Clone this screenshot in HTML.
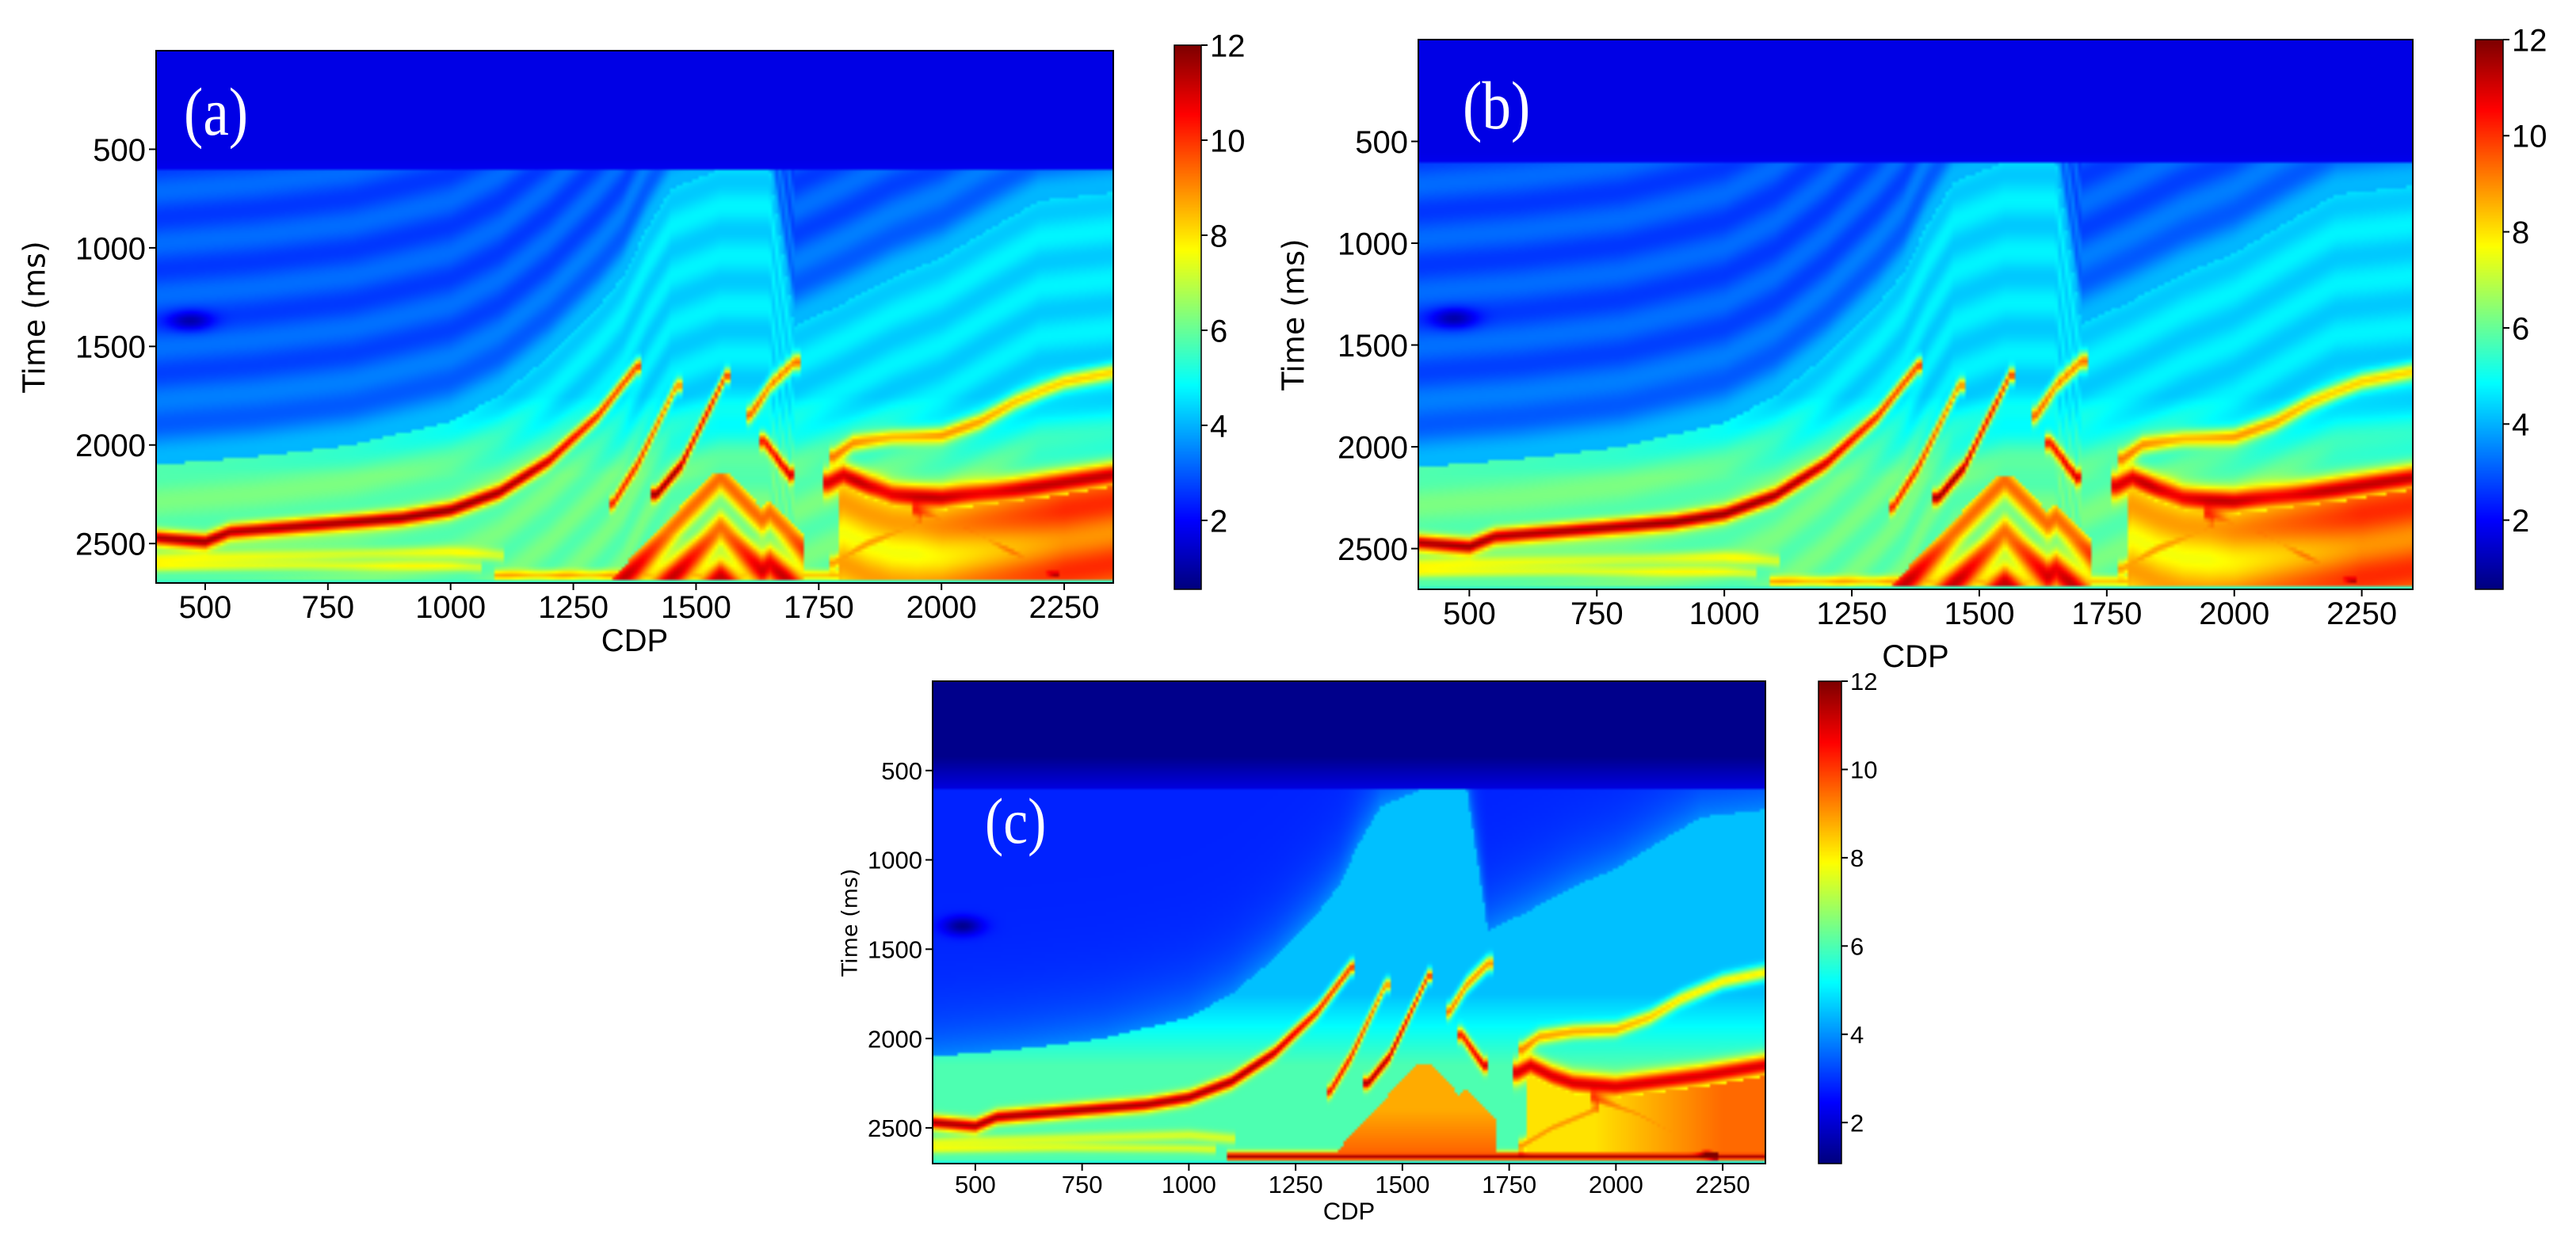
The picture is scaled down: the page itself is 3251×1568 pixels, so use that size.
<!DOCTYPE html>
<html><head><meta charset="utf-8">
<style>
html,body{margin:0;padding:0;background:#fff;}
#root{position:relative;width:3251px;height:1568px;overflow:hidden;background:#fff;}
canvas{position:absolute;image-rendering:auto;}
svg{position:absolute;left:0;top:0;}
</style></head>
<body>
<div id="root">
<svg id="ov" width="3251" height="1568"></svg>
</div>
<script>
// ---- data ----
const xTicks = [500,750,1000,1250,1500,1750,2000,2250];
const yTicks = [500,1000,1500,2000,2500];
const cbTicks = [2,4,6,8,10,12];
const bndCdp = [400,600,800,1000,1100,1200,1300,1350,1400,1450,1550,1650,1700,1800,1900,2000,2100,2200,2350];
const bndTime = [2100,2060,2000,1880,1750,1550,1300,1150,900,700,600,600,1400,1280,1150,1050,900,760,720];
const hMainCdp = [400,500,550,650,750,900,1000,1100,1200,1300,1380];
const hMainTime = [2470,2490,2440,2420,2400,2370,2330,2240,2080,1850,1600];
const hLow1Cdp = [400,700,1000,1100];
const hLow1Time = [2580,2560,2540,2560];
const hLow2Cdp = [400,700,1000,1050];
const hLow2Time = [2620,2610,2615,2620];
const hSteepACdp = [1330,1380,1420,1460];
const hSteepATime = [2300,2100,1900,1700];
const hSteepBCdp = [1420,1470,1510,1560];
const hSteepBTime = [2250,2100,1900,1650];
const hSteepCCdp = [1610,1650,1700];
const hSteepCTime = [1850,1700,1580];
const hSteepDCdp = [1640,1660,1690];
const hSteepDTime = [1980,2050,2150];
const hRightCdp = [1780,1820,1900,2000,2080,2150,2250,2350];
const hRightTime = [2060,1990,1960,1950,1880,1780,1680,1630];
const hBandCdp = [1770,1800,1850,1900,2000,2100,2200,2350];
const hBandTime = [2190,2150,2210,2250,2270,2240,2210,2150];
const hDiagDnCdp = [1950,2050,2150,2230];
const hDiagDnTime = [2340,2420,2550,2650];
const hDiagUpCdp = [1780,1850,1950];
const hDiagUpTime = [2600,2500,2400];
const hBottomCdp = [1100,2350];
const hBottomTime = [2660,2660];

const horizons = [
 {c:hMainCdp,t:hMainTime,a:5.5,w:38},
 {c:hLow1Cdp,t:hLow1Time,a:1.5,w:30},
 {c:hLow2Cdp,t:hLow2Time,a:1.5,w:25},
 {c:hSteepACdp,t:hSteepATime,a:4.5,w:35},
 {c:hSteepBCdp,t:hSteepBTime,a:5.5,w:35},
 {c:hSteepCCdp,t:hSteepCTime,a:4.5,w:40},
 {c:hSteepDCdp,t:hSteepDTime,a:5,w:40},
 {c:hRightCdp,t:hRightTime,a:3.5,w:40},
 {c:hBandCdp,t:hBandTime,a:5,w:60},
 {c:hDiagDnCdp,t:hDiagDnTime,a:3,w:35},
 {c:hDiagUpCdp,t:hDiagUpTime,a:3,w:35},
 {c:hBottomCdp,t:hBottomTime,a:2.5,w:25}
];

const panels = [
 {id:'a',x0:197,x1:1405,y0:64,y1:736,cb:[1482,1516,57,744],vmin:0.55,fs:40,yfs:38,yl:43,cdpY:806,lab:'(a)',lx:232,ly:170,lfs:86,v:0},
 {id:'b',x0:1790,x1:3045,y0:50,y1:744,cb:[3124,3159,50,744],vmin:0.56,fs:40,yfs:38,yl:1632,cdpY:826,lab:'(b)',lx:1846,ly:162,lfs:86,v:1},
 {id:'c',x0:1177,x1:2228,y0:860,y1:1469,cb:[2295,2324,860,1469],vmin:1.07,fs:31,yfs:27,yl:1072,cdpY:1527,lab:'(c)',lx:1243,ly:1064,lfs:82,v:2}
];
const CMIN=400,CMAX=2350,TMIN=0,TMAX=2700,VMAX=12;

function interp(xs,ys,x){
 if(x<=xs[0])return ys[0];
 for(let i=1;i<xs.length;i++){ if(x<=xs[i]){const f=(x-xs[i-1])/(xs[i]-xs[i-1]);return ys[i-1]+f*(ys[i]-ys[i-1]);} }
 return ys[ys.length-1];
}
function clamp(x,a,b){return Math.max(a,Math.min(b,x));}
function field(c,t,v){
 const topV = v==2?1.2:1.7;
 if(t<600){ return topV + (v==2? 0.9*Math.max(0,(t-420)/180):0.1*Math.max(0,(t-550)/50)); }
 const b = interp(bndCdp,bndTime,c);
 const d = b-t;
 let val;
 const stripe = v==2?0:1;
 if(d>0) val = 2.9 + 1.1*Math.exp(-d/200) + stripe*0.3*Math.sin(d/42) + (v==2?-0.1:0);
 else val = 4.5 + clamp((t-1750)/400,0,1)*1.5 + stripe*0.25*Math.sin(d/40);
 for(const h of horizons){
  if(c<h.c[0]-10||c>h.c[h.c.length-1]+10)continue;
  const ht=interp(h.c,h.t,c);
  let a=h.a; if(v==2&&h===horizons[11])a=5.5;
  val += a*Math.exp(-Math.pow((t-ht)/h.w,2));
 }
 if(c>1330&&c<1720&&t>2150){
  const peak = Math.min(2100 + 2.6*Math.abs(c-1550), 2280 + 2.6*Math.abs(c-1650));
  if(t>peak){
   let z;
   if(v==2) z = 8.8 + 0.8*clamp((t-2400)/250,0,1);
   else z = 7.8 + 1.6*Math.sin((t-peak)/40) + 1.8*clamp((t-2450)/200,0,1);
   val = Math.max(val, z);
  }
 }
 if(c>1790){
  const bt = interp(hBandCdp,hBandTime,c)+60;
  if(t>bt){ val=Math.max(val, 8.2 + 1.3*clamp((c-1950)/300,0,1) + (v==2?0:0.6*Math.sin((t-bt)/50))); }
 }
 val -= 1.6*Math.exp(-Math.pow((c-470)/45,2)-Math.pow((t-1370)/50,2));
 if(t>2685) val = 5.5;
 return val;
}
function jet(x){
 x=clamp(x,0,1);
 const r=clamp(1.5-Math.abs(4*x-3),0,1),g=clamp(1.5-Math.abs(4*x-2),0,1),b=clamp(1.5-Math.abs(4*x-1),0,1);
 return [r*255|0,g*255|0,b*255|0];
}
const NS='http://www.w3.org/2000/svg';
const ov=document.getElementById('ov');
const root=document.getElementById('root');
function mk(tag,attrs,parent){const e=document.createElementNS(NS,tag);for(const k in attrs)e.setAttribute(k,attrs[k]);(parent||ov).appendChild(e);return e;}
const tickFont='"Liberation Sans",sans-serif';

for(const p of panels){
 const W=300,H=170;
 const cv=document.createElement('canvas');
 
 
 cv.width=W;cv.height=H;
 cv.style.left=p.x0+'px';cv.style.top=p.y0+'px';
 cv.style.width=(p.x1-p.x0)+'px';cv.style.height=(p.y1-p.y0)+'px';
 const ctx=cv.getContext('2d');const img=ctx.createImageData(W,H);
 for(let j=0;j<H;j++){const t=TMIN+(j+0.5)/H*(TMAX-TMIN);
  for(let i=0;i<W;i++){const c=CMIN+(i+0.5)/W*(CMAX-CMIN);
   const val=field(c,t,p.v);const col=jet((val-p.vmin)/(VMAX-p.vmin));
   const k=(j*W+i)*4;img.data[k]=col[0];img.data[k+1]=col[1];img.data[k+2]=col[2];img.data[k+3]=255;}}
 ctx.putImageData(img,0,0);
 root.insertBefore(cv,ov);
 const cb=document.createElement('canvas');
 
 
 cb.width=1;cb.height=256;
 cb.style.left=p.cb[0]+'px';cb.style.top=p.cb[2]+'px';
 cb.style.width=(p.cb[1]-p.cb[0])+'px';cb.style.height=(p.cb[3]-p.cb[2])+'px';
 const c2=cb.getContext('2d');const im2=c2.createImageData(1,256);
 for(let j=0;j<256;j++){const col=jet(1-j/255);im2.data[j*4]=col[0];im2.data[j*4+1]=col[1];im2.data[j*4+2]=col[2];im2.data[j*4+3]=255;}
 c2.putImageData(im2,0,0);root.insertBefore(cb,ov);

 const g=mk('g',{});
 
 
 const fr=mk('rect',{x:p.x0,y:p.y0,width:p.x1-p.x0,height:p.y1-p.y0,fill:'none',stroke:'#000','stroke-width':2},g);
 
 
 const sx=c=>p.x0+(c-CMIN)/(CMAX-CMIN)*(p.x1-p.x0);
 const sy=t=>p.y0+(t-TMIN)/(TMAX-TMIN)*(p.y1-p.y0);
 for(const xt of xTicks){const x=sx(xt);
  mk('line',{x1:x,x2:x,y1:p.y1,y2:p.y1+9,stroke:'#000','stroke-width':2},g);
  const tx=mk('text',{x:x,y:p.y1+12+p.fs*0.8,'text-anchor':'middle','font-size':p.fs,'font-family':tickFont},g);
  
  
  tx.textContent=xt;}
 for(const yt of yTicks){const y=sy(yt);
  mk('line',{x1:p.x0-9,x2:p.x0,y1:y,y2:y,stroke:'#000','stroke-width':2},g);
  const tx=mk('text',{x:p.x0-13,y:y+p.fs*0.36,'text-anchor':'end','font-size':p.fs,'font-family':tickFont},g);
  
  
  tx.textContent=yt;}
 const cbs=v=>p.cb[3]-(v-p.vmin)/(VMAX-p.vmin)*(p.cb[3]-p.cb[2]);
 mk('rect',{x:p.cb[0],y:p.cb[2],width:p.cb[1]-p.cb[0],height:p.cb[3]-p.cb[2],fill:'none',stroke:'#000','stroke-width':1.5},g);
 for(const ct of cbTicks){const y=cbs(ct);
  mk('line',{x1:p.cb[1],x2:p.cb[1]+8,y1:y,y2:y,stroke:'#000','stroke-width':2},g);
  const tx=mk('text',{x:p.cb[1]+11,y:y+p.fs*0.36,'font-size':p.fs,'font-family':tickFont},g);
  
  
  tx.textContent=ct;}
 const yl=mk('text',{x:p.yl,y:(p.y0+p.y1)/2,'text-anchor':'middle','font-size':p.yfs,'font-family':'"DejaVu Sans",sans-serif',transform:`rotate(-90 ${p.yl} ${(p.y0+p.y1)/2})`,dy:p.yfs*0.35},g);
 
 
 yl.textContent='Time (ms)';
 const xl=mk('text',{x:(p.x0+p.x1)/2,y:p.cdpY+p.fs*0.4,'text-anchor':'middle','font-size':p.fs,'font-family':tickFont},g);
 
 
 xl.textContent='CDP';
 const lb=mk('text',{x:0,y:0,'font-size':p.lfs,'font-family':'"Liberation Serif",serif',fill:'#fff',transform:`translate(${p.lx} ${p.ly}) scale(0.85 1)`},g);
 
 
 lb.textContent=p.lab;
}
</script>
</body></html>
